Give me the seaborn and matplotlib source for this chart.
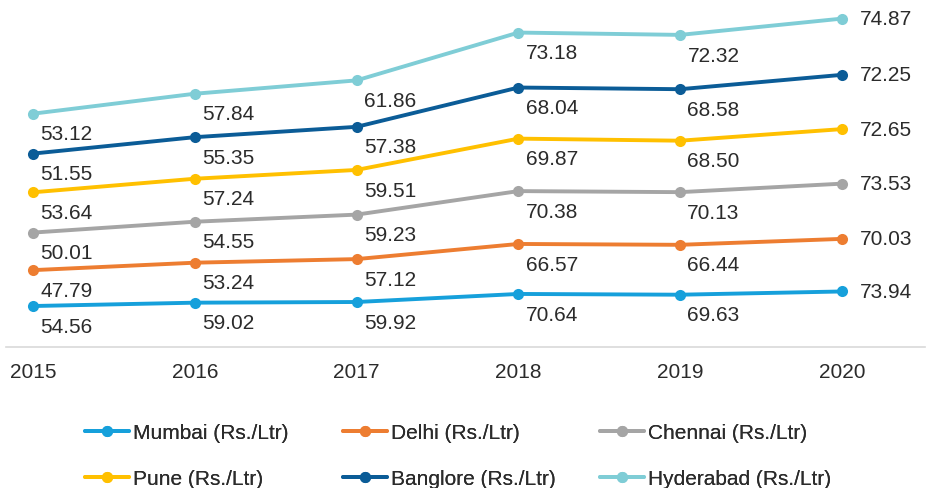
import pandas as pd
import numpy as np
import matplotlib
matplotlib.use("Agg")
import matplotlib.pyplot as plt
import seaborn as sns

# data (Rs./Ltr), stacked line chart
years = [2015, 2016, 2017, 2018, 2019, 2020]
mumbai = [54.56, 59.02, 59.92, 70.64, 69.63, 73.94]
delhi = [47.79, 53.24, 57.12, 66.57, 66.44, 70.03]
chennai = [50.01, 54.55, 59.23, 70.38, 70.13, 73.53]
pune = [53.64, 57.24, 59.51, 69.87, 68.50, 72.65]
banglore = [51.55, 55.35, 57.38, 68.04, 68.58, 72.25]
hyderabad = [53.12, 57.84, 61.86, 73.18, 72.32, 74.87]

cities = ["Mumbai (Rs./Ltr)", "Delhi (Rs./Ltr)", "Chennai (Rs./Ltr)",
          "Pune (Rs./Ltr)", "Banglore (Rs./Ltr)", "Hyderabad (Rs./Ltr)"]
colors = ["#16A0DB", "#ED7D31", "#A5A5A5", "#FFC000", "#0B5C97", "#7FCDD6"]

series = [mumbai, delhi, chennai, pune, banglore, hyderabad]
rows = []
cum = np.zeros(len(years))
for name, vals in zip(cities, series):
    cum = cum + np.array(vals)
    for yr, v, c in zip(years, vals, cum):
        rows.append({"year": yr, "city": name, "value": v, "stacked": c})
df = pd.DataFrame(rows)

sns.set_style("white")
plt.rcParams["font.family"] = ["Liberation Sans", "DejaVu Sans"]
txt_col = "#2b2b2b"
fs = 15

fig = plt.figure(figsize=(9.34, 4.89), dpi=100)
ax = fig.add_axes([6/934, 1 - 348/489, 919/934, 343/489])

sns.lineplot(data=df, x="year", y="stacked", hue="city", hue_order=cities,
             palette=colors, marker="o", markersize=8, markeredgewidth=0,
             linewidth=2.8, ax=ax)

# data labels
for name in cities:
    sub = df[df.city == name]
    for r in sub.itertuples():
        if r.year == years[-1]:
            ax.annotate(f"{r.value:.2f}", (r.year, r.stacked), xytext=(13, 0),
                        textcoords="offset points", ha="left", va="center",
                        fontsize=fs, color=txt_col)
        else:
            ax.annotate(f"{r.value:.2f}", (r.year, r.stacked), xytext=(24, -14.5),
                        textcoords="offset points", ha="center", va="center",
                        fontsize=fs, color=txt_col)

ax.set_xlim(2015 - 27/161.8, 2020 + 83/161.8)
ax.set_ylim(0, 343/0.751)
ax.set_xticks(years)
ax.set_xticklabels([str(y) for y in years], fontsize=fs, color=txt_col)
ax.set_yticks([])
ax.set_xlabel("")
ax.set_ylabel("")
ax.tick_params(axis="x", length=0, pad=11)
for s in ["top", "right", "left"]:
    ax.spines[s].set_visible(False)
ax.spines["bottom"].set_color("#D9D9D9")
ax.spines["bottom"].set_linewidth(1.2)

# legend: three columns placed like the original
handles, labels = ax.get_legend_handles_labels()
ax.get_legend().remove()
col_x = [85, 343, 600]
for j, x in enumerate(col_x):
    leg = fig.legend([handles[j], handles[j + 3]], [labels[j], labels[j + 3]],
                     loc="upper left", bbox_to_anchor=(x / 934, 1 - 424/489),
                     frameon=False, fontsize=fs, handlelength=2.1,
                     handletextpad=0.2, labelspacing=1.3, borderpad=0,
                     borderaxespad=0, labelcolor=txt_col)
    fig.add_artist(leg)

fig.savefig("out.png", dpi=100)
